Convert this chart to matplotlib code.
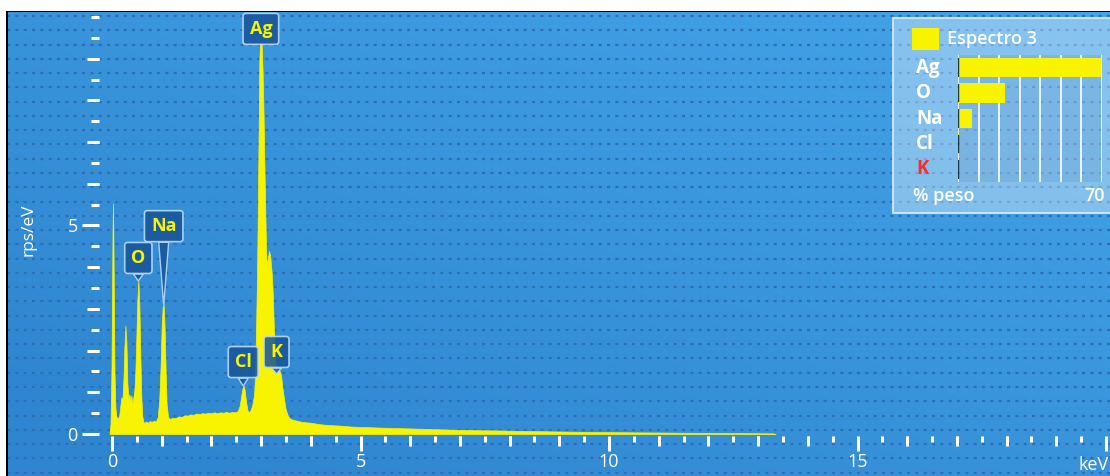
import numpy as np
import matplotlib
matplotlib.use("Agg")
import matplotlib.pyplot as plt
from matplotlib.patches import Rectangle
from matplotlib.ticker import FixedLocator, FixedFormatter
import matplotlib.transforms as mtransforms

# ---------------------------------------------------------------- data
energy_kev = [
    -0.05, -0.03, -0.01, 0.01, 0.02, 0.03, 0.05, 0.07, 0.09, 0.12, 0.15, 0.17,
    0.19, 0.21, 0.23, 0.25, 0.27, 0.29, 0.31, 0.33, 0.35, 0.37, 0.39, 0.41,
    0.43, 0.45, 0.47, 0.49, 0.51, 0.53, 0.55, 0.57, 0.59, 0.61, 0.64, 0.68,
    0.72, 0.76, 0.80, 0.84, 0.88, 0.92, 0.95, 0.98, 1.00, 1.02, 1.04, 1.06,
    1.08, 1.10, 1.13, 1.17, 1.22, 1.28, 1.34, 1.40, 1.46, 1.52, 1.58, 1.64,
    1.70, 1.76, 1.82, 1.88, 1.94, 2.00, 2.06, 2.12, 2.18, 2.24, 2.30, 2.36,
    2.42, 2.48, 2.53, 2.57, 2.60, 2.63, 2.65, 2.67, 2.70, 2.73, 2.76, 2.79,
    2.82, 2.86, 2.88, 2.90, 2.915, 2.93, 2.95, 2.965, 2.98, 3.01, 3.03, 3.05,
    3.07, 3.09, 3.10, 3.115, 3.135, 3.16, 3.185, 3.21, 3.23, 3.25, 3.27, 3.29,
    3.31, 3.34, 3.37, 3.40, 3.43, 3.46, 3.49, 3.53, 3.57, 3.62, 3.68, 3.75,
    3.82, 3.90, 4.00, 4.15, 4.30, 4.45, 4.60, 4.80, 5.00, 5.25, 5.50, 5.80,
    6.10, 6.40, 6.70, 7.00, 7.40, 7.80, 8.20, 8.60, 9.00, 9.50, 10.0, 10.5,
    11.0, 11.5, 12.0, 12.5, 13.0, 13.3, 13.35,
]
cps_per_ev = [
    0.00, 0.25, 1.60, 4.80, 5.53, 4.40, 1.50, 0.60, 0.42, 0.36, 0.48, 0.70,
    0.88, 0.82, 1.30, 2.10, 2.60, 2.20, 1.20, 0.86, 0.95, 0.80, 0.92, 0.72,
    0.88, 1.05, 1.50, 2.30, 3.20, 3.67, 3.10, 1.90, 0.90, 0.42, 0.26, 0.30,
    0.27, 0.31, 0.29, 0.32, 0.30, 0.40, 0.80, 1.70, 2.60, 3.05, 3.09, 2.50,
    1.50, 0.70, 0.40, 0.36, 0.39, 0.38, 0.42, 0.41, 0.45, 0.44, 0.47, 0.46,
    0.49, 0.48, 0.50, 0.49, 0.51, 0.50, 0.52, 0.50, 0.52, 0.51, 0.53, 0.51,
    0.53, 0.52, 0.55, 0.68, 0.92, 1.12, 1.15, 1.05, 0.75, 0.55, 0.53, 0.58,
    0.68, 0.95, 1.50, 2.60, 3.60, 5.00, 7.20, 9.00, 9.38, 9.38, 8.70, 7.60,
    6.20, 5.00, 4.40, 4.05, 4.20, 4.39, 4.25, 3.90, 3.50, 2.80, 2.00, 1.65,
    1.60, 1.56, 1.52, 1.42, 1.10, 0.85, 0.62, 0.46, 0.38, 0.35, 0.33, 0.31,
    0.29, 0.28, 0.27, 0.24, 0.22, 0.21, 0.20, 0.18, 0.17, 0.16, 0.15, 0.14,
    0.13, 0.12, 0.11, 0.10, 0.09, 0.085, 0.075, 0.068, 0.06, 0.052, 0.045, 0.04,
    0.035, 0.03, 0.026, 0.022, 0.018, 0.015, 0.0,
]

# identified lines: label, energy (keV), height the label points at (cps/eV)
line_names = ["Ag", "O", "Na", "Cl", "K"]
line_energy_kev = [2.995, 0.53, 1.04, 2.64, 3.31]
line_anchor_cps = [9.38, 3.67, 3.09, 1.15, 1.44]

# quantification result (weight %)
spectrum_name = "Espectro 3"
quant_elements = ["Ag", "O", "Na", "Cl", "K"]
quant_weight_pct = [69.6, 22.8, 6.9, 0.5, 0.2]
quant_scale_max = 70

x_major = [0, 5, 10, 15, 20]
x_major_labels = ["0", "5", "10", "15", ""]
y_major = [0, 5]

# ---------------------------------------------------------------- style
W, H, DPI = 1110, 476, 100
PT = 72.0 / DPI                      # points per pixel
YELLOW = "#f8f400"
WHITE = "white"
BOX_FC = (0.09, 0.33, 0.60, 0.86)
BOX_EC = (0.72, 0.86, 0.97, 0.9)
DOT = "#2d6fb4"

plt.rcParams["font.family"] = ["Open Sans", "DejaVu Sans"]
plt.rcParams["lines.scale_dashes"] = False


def fig_rect(x0, y0, x1, y1):
    """Figure-fraction rectangle from pixel box measured from the top-left."""
    return [x0 / W, 1 - y1 / H, (x1 - x0) / W, (y1 - y0) / H]


fig = plt.figure(figsize=(W / DPI, H / DPI), dpi=DPI, facecolor="white")

# ---- blue backdrop with dotted rows
bg = fig.add_axes(fig_rect(7, 12, W, H), zorder=-2)
bg.set_xlim(7, W)
bg.set_ylim(H, 12)
bg.axis("off")
yy, xx = np.mgrid[0:1:120j, 0:1:240j]
t = np.clip(0.55 * xx + 0.55 * (1 - yy) - 0.1, 0, 1)
c_lo = np.array([47, 134, 208]) / 255
c_hi = np.array([68, 164, 232]) / 255
bg.imshow(c_lo + (c_hi - c_lo) * t[..., None], extent=(7, W, H, 12),
          aspect="auto", interpolation="bilinear")
for yrow in np.arange(16, H, 14.27):
    bg.plot([7, W], [yrow, yrow], color=DOT, lw=1.6, dashes=(2.2, 3.8),
            solid_capstyle="butt")

# frame edges of the window
fig.add_artist(Rectangle((6 / W, 0), 1.5 / W, 1 - 11 / H, transform=fig.transFigure,
                         color="black", lw=0, zorder=5))
fig.add_artist(Rectangle((6 / W, 1 - 12 / H), 1, 1.2 / H, transform=fig.transFigure,
                         color="black", lw=0, zorder=5))

# ---- spectrum axes
X0_PX, Y0_PX = 112, 434              # pixel position of (0 keV, 0 cps/eV)
PX_PER_KEV, PX_PER_CPS = 49.7, 41.7
ax = fig.add_axes(fig_rect(99, 12, W, 436), zorder=0)
ax.patch.set_alpha(0)
ax.set_xlim((99 - X0_PX) / PX_PER_KEV, (W - X0_PX) / PX_PER_KEV)
ax.set_ylim((Y0_PX - 436) / PX_PER_CPS, (Y0_PX - 12) / PX_PER_CPS)
for s in ax.spines.values():
    s.set_visible(False)

ax.fill_between(energy_kev, cps_per_ev, 0, color=YELLOW, lw=0.5, zorder=3)

# x ticks: long at multiples of 5, medium at whole keV, short at halves
ax.xaxis.set_major_locator(FixedLocator(x_major))
ax.xaxis.set_major_formatter(FixedFormatter(x_major_labels))
ax.xaxis.set_minor_locator(FixedLocator(np.arange(0, 20.01, 0.5)))
ax.tick_params(axis="x", which="major", length=15 * PT, width=3 * PT, color=WHITE,
               labelcolor=WHITE, labelsize=13, pad=1.5)
ax.tick_params(axis="x", which="minor", length=6 * PT, width=3 * PT, color=WHITE)
x_whole = [v for v in range(0, 21) if v % 5]
ax.plot(x_whole, np.zeros(len(x_whole)), ls="none", marker=3, ms=10 * PT,
        mew=3 * PT, color=WHITE, transform=ax.get_xaxis_transform(), clip_on=False)

# y ticks
ax.yaxis.set_major_locator(FixedLocator(y_major))
ax.yaxis.set_minor_locator(FixedLocator(np.arange(0, 10.01, 0.5)))
ax.tick_params(axis="y", which="major", length=17 * PT, width=3 * PT, color=WHITE,
               labelcolor=WHITE, labelsize=13, pad=3)
ax.tick_params(axis="y", which="minor", length=8 * PT, width=3 * PT, color=WHITE)
y_whole = [v for v in range(0, 11) if v % 5]
ax.plot(np.zeros(len(y_whole)), y_whole, ls="none", marker=0, ms=12 * PT,
        mew=3 * PT, color=WHITE, transform=ax.get_yaxis_transform(), clip_on=False)

ax.text(19.45, (Y0_PX - 465) / PX_PER_CPS, "keV", color=WHITE, fontsize=13,
        ha="left", va="center", clip_on=False)
fig.text(28 / W, 1 - 230 / H, "rps/eV", color=WHITE, fontsize=12.5, rotation=90,
         ha="center", va="center")

# element markers
label_rise_px = {"Ag": 14, "O": 23, "Na": 79, "Cl": 24, "K": 22}
for name, e, a in zip(line_names, line_energy_kev, line_anchor_cps):
    rise = label_rise_px[name]
    arrow = None
    if name != "Ag":
        arrow = dict(arrowstyle="wedge,tail_width=0.55,shrink_factor=0.5",
                     fc=BOX_FC, ec=BOX_EC, lw=1.0, shrinkA=0, shrinkB=0)
    ax.annotate(name, xy=(e, a), xytext=(0, rise * PT), textcoords="offset points",
                ha="center", va="center", color=YELLOW, fontsize=13,
                fontweight="bold", zorder=6, annotation_clip=False,
                bbox=dict(boxstyle="round,pad=0.36,rounding_size=0.15",
                          fc=BOX_FC, ec=BOX_EC, lw=1.2),
                arrowprops=arrow)

# ---- quantification panel
fig.add_artist(Rectangle((893 / W, 1 - 213 / H), 230 / W, 195 / H,
                         transform=fig.transFigure, fc=(1, 1, 1, 0.36),
                         ec=(0.82, 0.91, 0.98, 0.9), lw=1.5, zorder=1))
fig.add_artist(Rectangle((912 / W, 1 - 50 / H), 27 / W, 22 / H,
                         transform=fig.transFigure, fc=YELLOW, lw=0, zorder=3))
fig.text(947 / W, 1 - 39 / H, spectrum_name, color=WHITE, fontsize=13,
         fontweight="semibold", ha="left", va="center", zorder=3)

bx = fig.add_axes(fig_rect(958, 55, 1102, 182), zorder=2)
bx.set_facecolor((0.16, 0.40, 0.66, 0.12))
bx.set_xlim(0, quant_scale_max)
bx.set_ylim(len(quant_elements) - 0.5, -0.5)
for s in bx.spines.values():
    s.set_visible(False)
bx.set_xticks(np.arange(0, quant_scale_max + 1, 10))
bx.set_yticks([])
bx.tick_params(length=0, labelbottom=False)
bx.grid(axis="x", color=(1, 1, 1, 0.07), lw=1.2)
bx.set_axisbelow(True)
rows = np.arange(len(quant_elements))
bx.barh(rows, quant_weight_pct, height=0.76, color=YELLOW, zorder=3)
bx.vlines(np.zeros(len(rows)), rows - 0.37, rows + 0.37, color="#1c3a4c",
          lw=2.5 * PT, zorder=4)

row_tf = mtransforms.blended_transform_factory(fig.transFigure, bx.transData)
for r, el in zip(rows, quant_elements):
    bx.text(916 / W, r, el, transform=row_tf, color="#ff2a2a" if el == "K" else WHITE,
            fontsize=13.5, fontweight="bold", ha="left", va="center", clip_on=False)
fig.text(913 / W, 1 - 196 / H, "% peso", color=WHITE, fontsize=13,
         fontweight="semibold", ha="left", va="center", zorder=3)
fig.text(1105 / W, 1 - 196 / H, str(quant_scale_max), color=WHITE, fontsize=13,
         fontweight="semibold", ha="right", va="center", zorder=3)

fig.savefig("out.png", dpi=DPI, facecolor="white")
